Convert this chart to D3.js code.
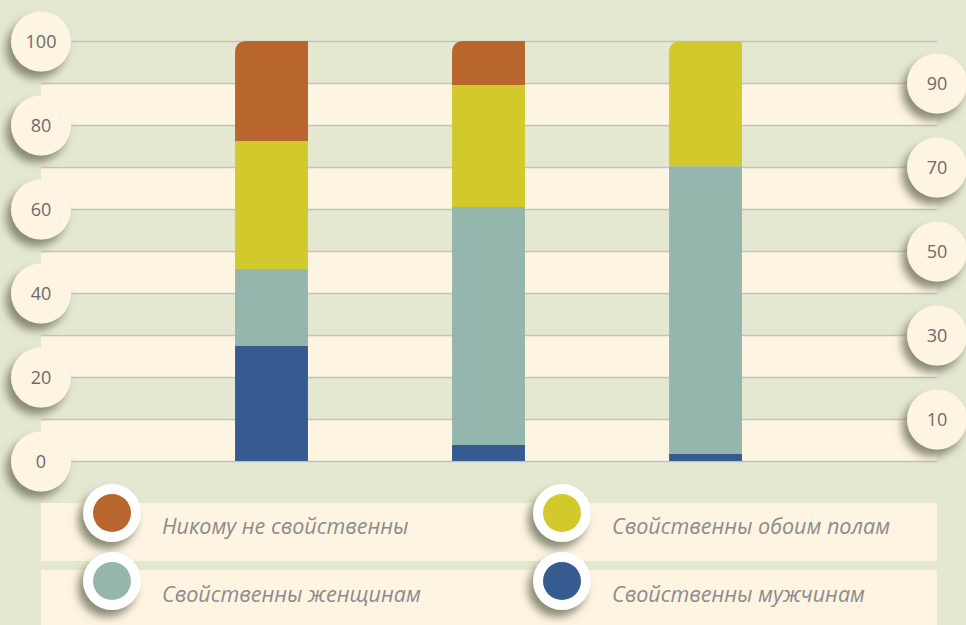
<!DOCTYPE html>
<html lang="ru">
<head>
  <meta charset="utf-8">
  <title>Stacked bars</title>
  <script src="https://cdnjs.cloudflare.com/ajax/libs/d3/7.8.5/d3.min.js"></script>
  <style>
    body { margin: 0; background: #e5e8d0; }
    svg { display: block; }
    .tick-label { font-family: "Open Sans", sans-serif; font-size: 18px; fill: #6b6b6b; }
    .legend-label { font-family: "Open Sans", sans-serif; font-style: italic; font-size: 21.5px; fill: #8c8c8c; }
  </style>
</head>
<body>
<svg id="chart"></svg>
<script>
var categories = ["1", "2", "3"];
var seriesNames = ["Свойственны мужчинам", "Свойственны женщинам", "Свойственны обоим полам", "Никому не свойственны"];
var men =     [27.4, 3.8, 1.8];
var women =   [18.3, 56.7, 68.4];
var both =    [30.5, 29.0, 29.8];
var nobody =  [23.8, 10.5, 0];
var leftTicks = [0, 20, 40, 60, 80, 100];
var rightTicks = [10, 30, 50, 70, 90];
var legendOrder = ["Никому не свойственны", "Свойственны обоим полам", "Свойственны женщинам", "Свойственны мужчинам"];

var colors = {
  "Свойственны мужчинам": "#355b91",
  "Свойственны женщинам": "#95b6ac",
  "Свойственны обоим полам": "#d2ca2c",
  "Никому не свойственны": "#b8652e"
};

var w = 966, h = 625;
var left = 41, right = 937;

var svg = d3.select("#chart").attr("width", w).attr("height", h);

var defs = svg.append("defs");
var f = defs.append("filter").attr("id", "shadow")
  .attr("x", "-50%").attr("y", "-50%").attr("width", "200%").attr("height", "200%");
f.append("feDropShadow").attr("dx", -5).attr("dy", 7).attr("stdDeviation", 4)
  .attr("flood-color", "#777962").attr("flood-opacity", 0.85);

var y = d3.scaleLinear().domain([0, 100]).range([461, 41]);
var x = d3.scaleBand().domain(categories).range([163, 814]).paddingInner(0.664).paddingOuter(0.332);

// cream bands between 0-10, 20-30, ... 80-90
var bandStarts = d3.range(0, 100, 20);
svg.append("g").selectAll("rect").data(bandStarts).enter().append("rect")
  .attr("x", left)
  .attr("width", right - left)
  .attr("y", function(d) { return y(d + 10); })
  .attr("height", function(d) { return y(d) - y(d + 10); })
  .attr("fill", "#fef4e2");

// grid lines
svg.append("g").attr("transform", "translate(" + right + ",0)")
  .call(function(g) {
    g.call(d3.axisLeft(y).tickValues(d3.range(0, 101, 10)).tickSize(right - left).tickFormat(""));
    g.select(".domain").remove();
    g.selectAll("line").attr("stroke", "#c4c1c1").attr("stroke-width", 1.5);
  });

// stacked data
var table = categories.map(function(c, i) {
  var o = { cat: c };
  o["Свойственны мужчинам"] = men[i];
  o["Свойственны женщинам"] = women[i];
  o["Свойственны обоим полам"] = both[i];
  o["Никому не свойственны"] = nobody[i];
  return o;
});
var stack = d3.stack().keys(seriesNames)(table);

// top segment per bar gets the rounded corner
var topKey = categories.map(function(c, i) {
  var k = null;
  stack.forEach(function(s) { if (s[i][1] - s[i][0] > 0) k = s.key; });
  return k;
});

function segPath(x0, y0, x1, y1, r) {
  return "M" + x0 + "," + y1 + "L" + x0 + "," + (y0 + r) +
    "Q" + x0 + "," + y0 + " " + (x0 + r) + "," + y0 +
    "L" + x1 + "," + y0 + "L" + x1 + "," + y1 + "Z";
}

svg.append("g").selectAll("g").data(stack).enter().append("g")
  .attr("fill", function(d) { return colors[d.key]; })
  .each(function(s) {
    d3.select(this).selectAll("path").data(s.filter(function(d) { return d[1] - d[0] > 0; }))
      .enter().append("path")
      .attr("d", function(d) {
        var i = categories.indexOf(d.data.cat);
        var x0 = x(d.data.cat), x1 = x0 + x.bandwidth();
        var r = topKey[i] === s.key ? 12 : 0;
        return segPath(x0, y(d[1]), x1, y(d[0]), r);
      });
  });

// axis circles
function circleAxis(g) {
  g.select(".domain").remove();
  g.selectAll(".tick").insert("circle", "text")
    .attr("r", 30).attr("fill", "#fef4e2").attr("filter", "url(#shadow)");
  g.selectAll(".tick text").attr("class", "tick-label").attr("x", 0)
    .attr("text-anchor", "middle").attr("dy", "0.35em");
}
svg.append("g").attr("transform", "translate(" + left + ",0)")
  .call(d3.axisLeft(y).tickValues(leftTicks).tickSize(0))
  .call(circleAxis);
svg.append("g").attr("transform", "translate(" + right + ",0)")
  .call(d3.axisRight(y).tickValues(rightTicks).tickSize(0))
  .call(circleAxis);

// legend
var rows = [503, 570];
svg.append("g").selectAll("rect").data(rows).enter().append("rect")
  .attr("x", left).attr("width", right - left)
  .attr("y", function(d) { return d; }).attr("height", 58)
  .attr("fill", "#fef4e2");

var legend = svg.append("g").selectAll("g").data(legendOrder).enter().append("g")
  .attr("transform", function(d, i) {
    var col = i % 2, row = Math.floor(i / 2);
    return "translate(" + (col === 0 ? 112 : 562) + "," + (513 + row * 68) + ")";
  });
legend.append("circle").attr("r", 29).attr("fill", "#ffffff").attr("filter", "url(#shadow)");
legend.append("circle").attr("r", 19).attr("fill", function(d) { return colors[d]; });
legend.append("text").attr("class", "legend-label")
  .attr("x", 50).attr("y", 13).attr("dy", "0.35em")
  .text(function(d) { return d; });
</script>
</body>
</html>
